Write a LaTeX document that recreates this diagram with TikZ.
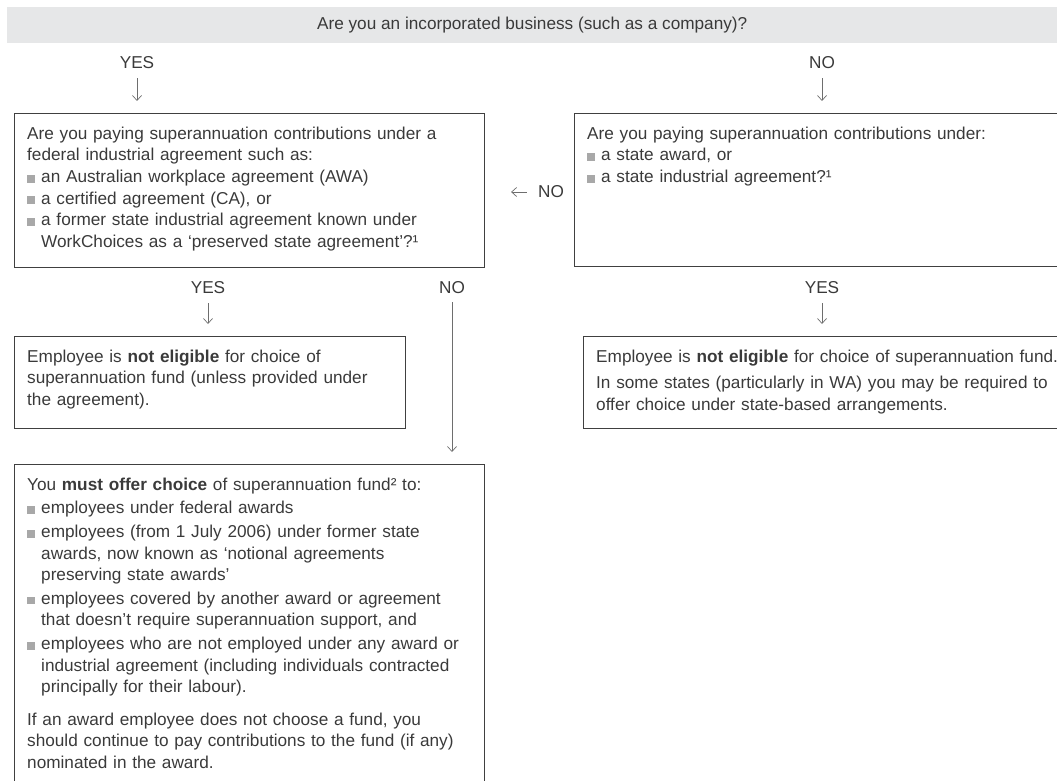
\documentclass[tikz,border=0pt]{standalone}
\usepackage{fontspec}
\setmainfont{Liberation Sans}
\usetikzlibrary{arrows.meta}
\definecolor{txtc}{HTML}{3A3A3A}
\definecolor{bnr}{HTML}{E6E7E8}
\definecolor{bulc}{HTML}{A8A8A8}
\definecolor{lnc}{HTML}{404040}
\definecolor{arc}{HTML}{6E6E6E}
\newcommand\bx{\makebox[14pt][l]{\textcolor{bulc}{\rule{7.8pt}{7.8pt}}}}
\newcommand\ind{\hspace*{14pt}}
\newcommand\fsz{\fontsize{17.2}{21.6}\selectfont}
\begin{document}
\begin{tikzpicture}[x=1pt,y=-1pt,
  box/.style={draw=lnc, line width=1.1pt, anchor=north west, inner sep=0pt},
  body/.style={anchor=north west, inner sep=0pt, text width=#1, align=left, font=\fsz, text=txtc},
  lbl/.style={font=\fsz, text=txtc, inner sep=1pt},
  arr/.style={draw=arc, line width=0.7pt, -{Straight Barb[length=5pt,width=9pt]}}]
\clip (0,0) rectangle (1057,781);
% banner
\node[fill=bnr, minimum width=1050pt, minimum height=36pt, anchor=north west, inner sep=0pt, font=\fsz, text=txtc] (q0) at (7,7) {Are you an incorporated business (such as a company)?};
% first level labels
\node[lbl] (y1) at (137,63) {YES};
\node[lbl] (n1) at (822,63) {NO};
% boxes
\node[box, minimum width=470pt, minimum height=154pt] (qa) at (14,113) {};
\node[box, minimum width=520pt, minimum height=153pt] (qb) at (574,113) {};
\node[body=470pt] (qat) at (27,124) {\strut Are you paying superannuation contributions under a\\
federal industrial agreement such as:\\
\bx an Australian workplace agreement (AWA)\\
\bx a certified agreement (CA), or\\
\bx a former state industrial agreement known under\\
\ind WorkChoices as a ‘preserved state agreement’?¹};
\node[body=480pt] (qbt) at (587,124) {\strut Are you paying superannuation contributions under:\\
\bx a state award, or\\
\bx a state industrial agreement?¹};
\draw[arr] (y1.south) ++(0,8) -- ([yshift=12pt]qa.north -| y1.south);
\draw[arr] (n1.south) ++(0,8) -- ([yshift=12pt]qb.north -| n1.south);
% NO to the left
\node[lbl] (n2) at (551,192) {NO};
\draw[arr] ([xshift=-10pt]n2.west) -- ([xshift=26pt]qa.east |- n2.west);
% second level
\node[lbl] (y2) at (208,288) {YES};
\node[lbl] (n3) at (452,288) {NO};
\node[lbl] (y3) at (822,288) {YES};
\node[box, minimum width=391pt, minimum height=92pt] (qc) at (14,336) {};
\node[box, minimum width=520pt, minimum height=92pt] (qd) at (583,336) {};
\node[box, minimum width=470pt, minimum height=400pt] (qe) at (14,464) {};
\draw[arr] (y2.south) ++(0,8) -- ([yshift=12pt]qc.north -| y2.south);
\draw[arr] (y3.south) ++(0,8) -- ([yshift=12pt]qd.north -| y3.south);
\draw[arr] (n3.south) ++(0,7) -- ([yshift=12pt]qe.north -| n3.south);
\node[body=385pt] (qct) at (27,347) {\strut Employee is \textbf{not eligible} for choice of\\
superannuation fund (unless provided under\\
the agreement).};
\node[body=480pt] (qdt) at (596,347) {\strut Employee is \textbf{not eligible} for choice of superannuation fund.\\[5pt]
In some states (particularly in WA) you may be required to\\
offer choice under state-based arrangements.};
\node[body=470pt] (qet) at (27,475) {\strut You \textbf{must offer choice} of superannuation fund² to:\\[2pt]
\bx employees under federal awards\\[2pt]
\bx employees (from 1 July 2006) under former state\\
\ind awards, now known as ‘notional agreements\\
\ind preserving state awards’\\[2pt]
\bx employees covered by another award or agreement\\
\ind that doesn’t require superannuation support, and\\[2pt]
\bx employees who are not employed under any award or\\
\ind industrial agreement (including individuals contracted\\
\ind principally for their labour).\\[11pt]
If an award employee does not choose a fund, you\\
should continue to pay contributions to the fund (if any)\\
nominated in the award.};
\end{tikzpicture}
\end{document}
